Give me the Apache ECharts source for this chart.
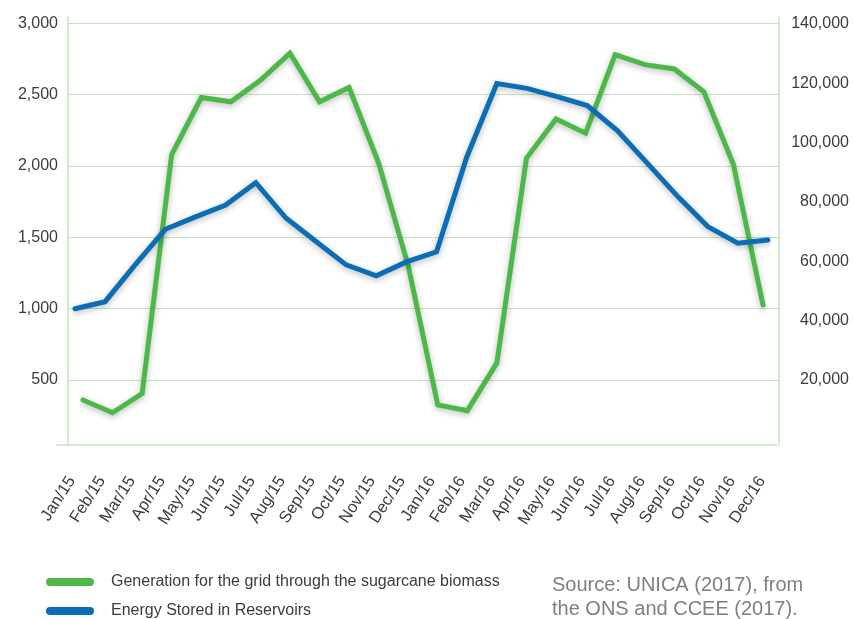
<!DOCTYPE html>
<html>
<head>
<meta charset="utf-8">
<script src="https://cdn.jsdelivr.net/npm/echarts@6/dist/echarts.min.js"></script>
<style>
  html, body { margin: 0; padding: 0; background: #fff; }
  #mychart { width: 853px; height: 619px; }
</style>
</head>
<body>
<div id="mychart"></div>
<script>
// months on the x axis
var months = ['Jan/15', 'Feb/15', 'Mar/15', 'Apr/15', 'May/15', 'Jun/15', 'Jul/15', 'Aug/15',
    'Sep/15', 'Oct/15', 'Nov/15', 'Dec/15', 'Jan/16', 'Feb/16', 'Mar/16', 'Apr/16',
    'May/16', 'Jun/16', 'Jul/16', 'Aug/16', 'Sep/16', 'Oct/16', 'Nov/16', 'Dec/16'];

// left axis: generation from sugarcane biomass
var biomass = [360, 270, 405, 2080, 2480, 2450, 2600, 2790, 2450, 2550, 2020, 1300,
    325, 285, 620, 2055, 2330, 2230, 2780, 2710, 2680, 2520, 2010, 1025];

// right axis: energy stored in reservoirs
var reservoirs = [44000, 46400, 58900, 70800, 75000, 79000, 86500, 74600, 66700, 58800, 55100, 59800,
    63200, 95100, 119900, 118300, 115500, 112500, 104100, 93000, 81900, 71700, 66100, 67200];

var biomassName = 'Generation for the grid through the sugarcane biomass';
var reservoirName = 'Energy Stored in Reservoirs';

var green = '#4cb848';
var blue = '#0a6db5';
var gridGreen = '#c2e4bd';
var labelColor = '#3c3c3c';

function fmt(v) {
    return v === 0 ? '' : v.toLocaleString('en-US');
}

var dom = document.getElementById('mychart');
var myChart = echarts.init(dom);

var lineShadow = {
    shadowColor: 'rgba(0, 0, 0, 0.28)',
    shadowBlur: 6,
    shadowOffsetY: 2
};

var option = {
    animation: false,
    textStyle: { fontFamily: "'Liberation Sans', Arial, sans-serif" },
    title: {
        text: 'Source: UNICA (2017), from\nthe ONS and CCEE (2017).',
        left: 552,
        top: 573,
        padding: 0,
        textStyle: { fontSize: 20, fontWeight: 'normal', color: '#7f7f7f', lineHeight: 24 }
    },
    legend: {
        orient: 'vertical',
        left: 46,
        top: 574,
        padding: 0,
        itemWidth: 48,
        itemHeight: 8,
        itemGap: 13,
        icon: 'path://M4,0 L44,0 A4,4 0 0 1 44,8 L4,8 A4,4 0 0 1 4,0 Z',
        textStyle: { fontSize: 16, color: labelColor, padding: [0, 0, 0, 12] },
        data: [biomassName, reservoirName]
    },
    grid: [
        { left: 68, width: 712, top: 23.3, height: 428 },   // gridlines + left labels
        { left: 57, width: 720, top: 17, height: 428 },     // month axis
        { left: 68, width: 711, top: 17, height: 428 },     // vertical axis lines
        { left: 83, width: 680, top: 23.3, height: 428 },   // biomass line
        { left: 75, width: 693, top: 24, height: 415.3 }    // reservoirs line + right labels
    ],
    xAxis: [
        { gridIndex: 0, type: 'category', data: months, show: false },
        {
            gridIndex: 1,
            type: 'category',
            data: months,
            boundaryGap: true,
            axisLine: { lineStyle: { color: gridGreen, width: 1.5 } },
            axisTick: { alignWithLabel: true, interval: 0, length: 10, lineStyle: { color: gridGreen, width: 1.5 } },
            axisLabel: { interval: 0, rotate: 57, margin: 33, fontSize: 16.5, color: labelColor }
        },
        { gridIndex: 2, type: 'category', data: months, show: false },
        { gridIndex: 3, type: 'category', data: months, boundaryGap: false, show: false },
        { gridIndex: 4, type: 'category', data: months, boundaryGap: false, show: false }
    ],
    yAxis: [
        {
            gridIndex: 0,
            type: 'value',
            min: 0,
            max: 3000,
            interval: 500,
            axisLine: { show: false },
            axisTick: { show: false },
            axisLabel: { formatter: fmt, margin: 10, fontSize: 16, color: labelColor },
            splitLine: { show: true, showMinLine: false, lineStyle: { color: gridGreen, width: 1 } }
        },
        { gridIndex: 1, type: 'value', min: 0, max: 1, show: false },
        {
            gridIndex: 2, type: 'value', position: 'left', min: 0, max: 1,
            axisLine: { show: true, lineStyle: { color: gridGreen, width: 1.5 } },
            axisTick: { show: false }, axisLabel: { show: false }, splitLine: { show: false }
        },
        {
            gridIndex: 2, type: 'value', position: 'right', min: 0, max: 1,
            axisLine: { show: true, lineStyle: { color: gridGreen, width: 1.5 } },
            axisTick: { show: false }, axisLabel: { show: false }, splitLine: { show: false }
        },
        { gridIndex: 3, type: 'value', min: 0, max: 3000, show: false },
        {
            gridIndex: 4,
            type: 'value',
            position: 'right',
            min: 0,
            max: 140000,
            interval: 20000,
            axisLine: { show: false },
            axisTick: { show: false },
            splitLine: { show: false },
            axisLabel: { formatter: fmt, align: 'right', margin: 81, fontSize: 16, color: labelColor }
        }
    ],
    series: [
        {
            name: biomassName,
            type: 'line',
            xAxisIndex: 3,
            yAxisIndex: 4,
            data: biomass,
            symbol: 'none',
            itemStyle: { color: green },
            lineStyle: Object.assign({ color: green, width: 5, cap: 'round', join: 'miter' }, lineShadow)
        },
        {
            name: reservoirName,
            type: 'line',
            xAxisIndex: 4,
            yAxisIndex: 5,
            data: reservoirs,
            symbol: 'none',
            itemStyle: { color: blue },
            lineStyle: Object.assign({ color: blue, width: 5, cap: 'round', join: 'miter' }, lineShadow)
        }
    ]
};

if (option && typeof option === 'object') {
    myChart.setOption(option);
}
</script>
</body>
</html>
